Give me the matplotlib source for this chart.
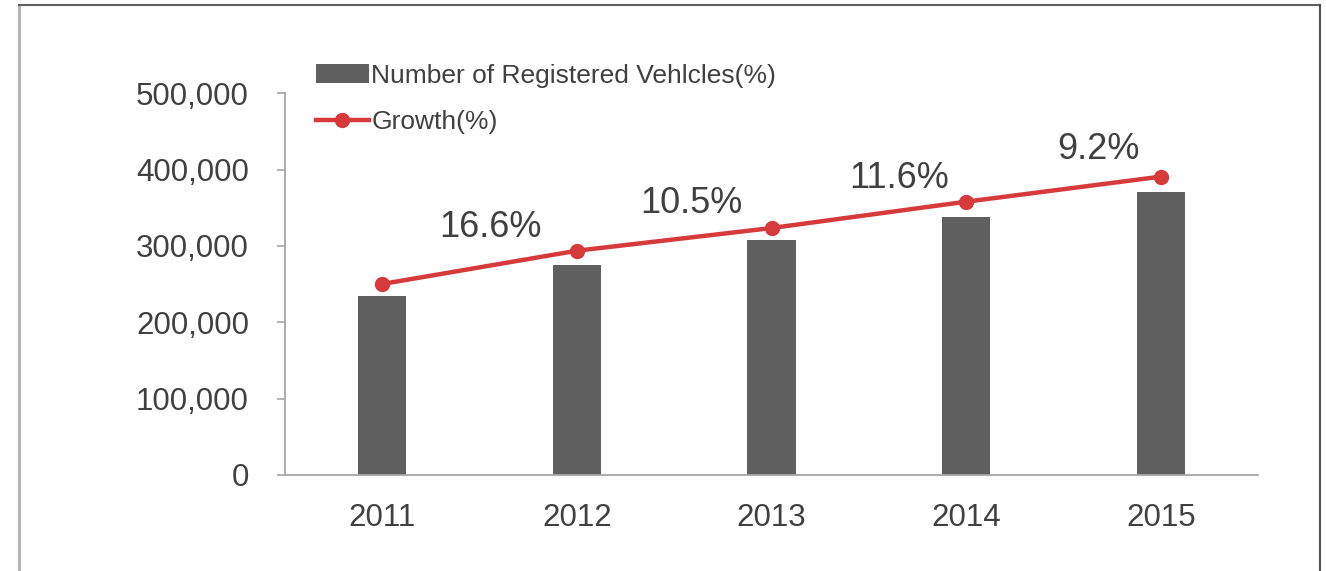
import matplotlib
matplotlib.use("Agg")
import matplotlib.pyplot as plt
from matplotlib.lines import Line2D

# ---- data ----
years = ["2011", "2012", "2013", "2014", "2015"]
registered = [234500, 274700, 308300, 338400, 370300]
growth_line = [250200, 293800, 323500, 358000, 390800]
growth_labels = ["", "16.6%", "10.5%", "11.6%", "9.2%"]
yticks = [0, 100000, 200000, 300000, 400000, 500000]

# label offsets (pixels) relative to line points
label_offsets = [(0, 0), (-86, 23), (-80, 25), (-67, 23), (-62, 27)]

W, H, DPI = 1326, 571, 100
fig = plt.figure(figsize=(W / DPI, H / DPI), dpi=DPI)
plt.rcParams['font.family'] = ['Liberation Sans', 'DejaVu Sans']

text_c = "#404040"
bar_c = "#5f5f5f"
line_c = "#d63a3b"
spine_c = "#a6a6a6"

# outer frame
fig.add_artist(Line2D([19 / W, 19 / W], [0, 1 - 5 / H], transform=fig.transFigure,
                      color="#b0b0b0", lw=2))
fig.add_artist(Line2D([19 / W, 1320 / W], [1 - 5 / H, 1 - 5 / H], transform=fig.transFigure,
                      color="#606060", lw=1.5))
fig.add_artist(Line2D([1320 / W, 1320 / W], [0, 1 - 5 / H], transform=fig.transFigure,
                      color="#505050", lw=1.5))

left, right = 285, 1258
bottom, top = 475, 93.3
ax = fig.add_axes([left / W, 1 - bottom / H, (right - left) / W, (bottom - top) / H])

x = list(range(len(years)))
bars = ax.bar(x, registered, width=0.247, color=bar_c,
              label="Number of Registered Vehlcles(%)", zorder=2)
line, = ax.plot(x, growth_line, color=line_c, lw=3.2, marker="o", markersize=10,
                label="Growth(%)", zorder=3)

for i, lab in enumerate(growth_labels):
    if lab:
        ax.annotate(lab, (x[i], growth_line[i]), xytext=label_offsets[i],
                    textcoords="offset pixels", ha="center", va="center",
                    fontsize=26, color=text_c)

ax.set_xlim(-0.5, len(years) - 0.5)
ax.set_ylim(0, 500000)
ax.set_yticks(yticks)
ax.set_yticklabels([f"{v:,}" for v in yticks])
ax.set_xticks(x)
ax.set_xticklabels(years)

for s in ["top", "right"]:
    ax.spines[s].set_visible(False)
for s in ["left", "bottom"]:
    ax.spines[s].set_color(spine_c)
    ax.spines[s].set_linewidth(1.3)

ax.tick_params(axis="y", length=6, width=1.2, color=spine_c, pad=20,
               labelsize=22.5, labelcolor=text_c, direction="out")
ax.tick_params(axis="x", length=0, pad=20, labelsize=22.5, labelcolor=text_c)

leg = ax.legend([bars, line], ["Number of Registered Vehlcles(%)", "Growth(%)"],
                loc="center left", bbox_to_anchor=(316 / W, 1 - 99 / H),
                bbox_transform=fig.transFigure, frameon=False, fontsize=19,
                handlelength=2.0, handletextpad=0.1, labelspacing=0.85,
                borderpad=0, borderaxespad=0)
for t in leg.get_texts():
    t.set_color(text_c)

fig.savefig("out.png", dpi=DPI)
